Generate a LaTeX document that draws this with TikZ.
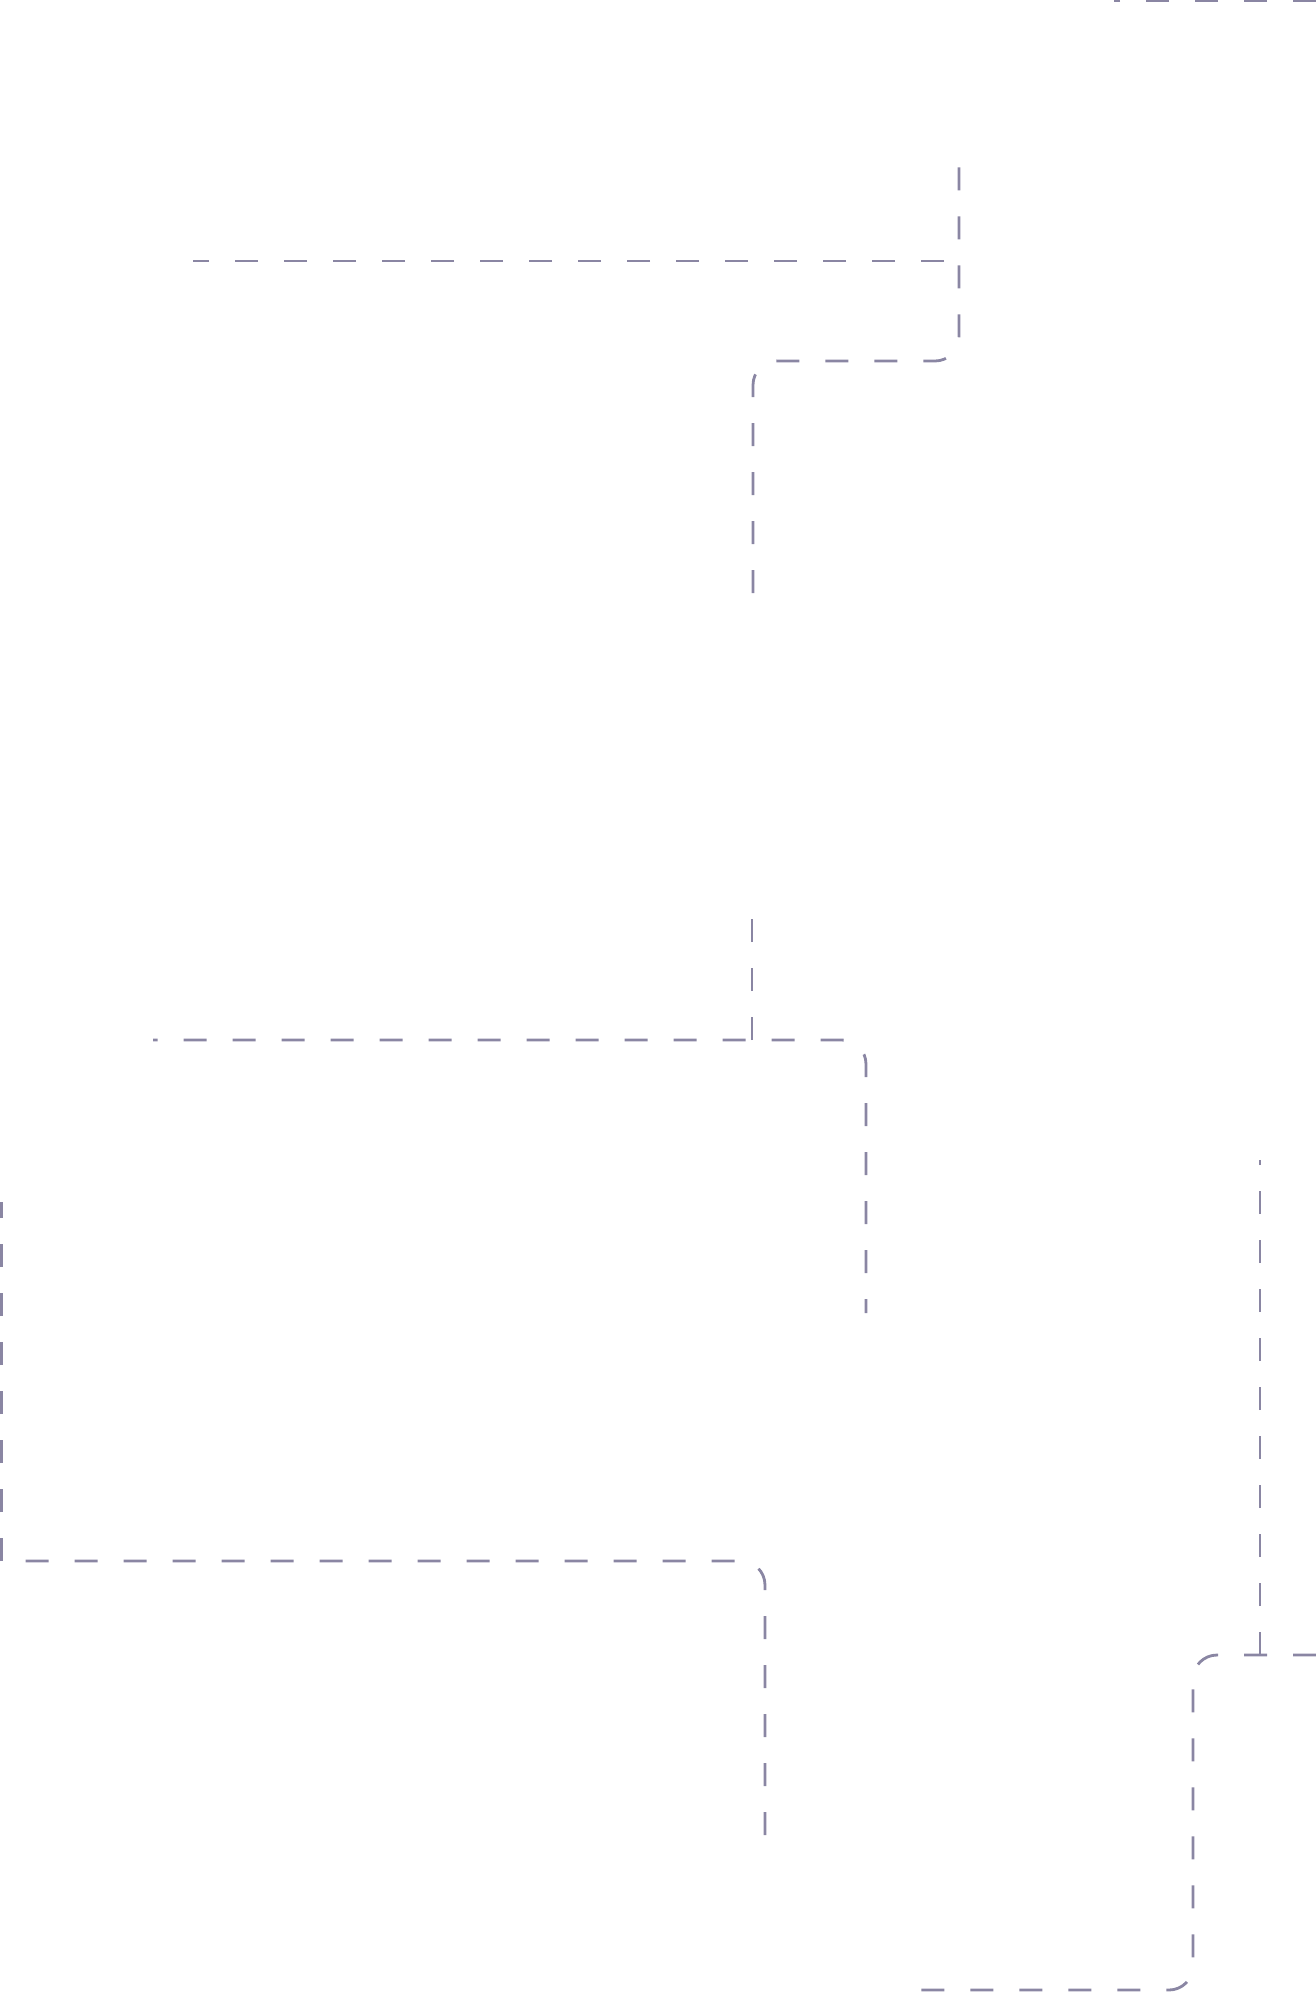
\documentclass[tikz,border=0pt]{standalone}
\usepackage{tikz}
\definecolor{linkgrey}{RGB}{138,134,163}

\begin{document}
\begin{tikzpicture}[x=0.5pt,y=-0.5pt,
	link/.style={draw=linkgrey, line width=1.4pt, dash pattern=on 11.5pt off 13pt, rounded corners=12pt}]
	\useasboundingbox (0,0) rectangle (1316,1994);
	\coordinate (topa) at (1114,1);
	\coordinate (topb) at (1316,1);
	\coordinate (ina) at (193,261);
	\coordinate (inb) at (944,261);
	\coordinate (upa) at (959,154);
	\coordinate (upb) at (753,593);
	\coordinate (mida) at (752,907);
	\coordinate (midb) at (153,1040);
	\coordinate (midc) at (866,1313);
	\coordinate (lefta) at (1.5,1202);
	\coordinate (leftb) at (765,1835);
	\coordinate (leftc) at (1.5,1561);
	\coordinate (righta) at (1260,1160);
	\coordinate (rightb) at (1316,1655);
	\coordinate (rightc) at (921,1990);
	\draw [link] (topb) -- (topa);
	\draw [link] (inb) -- (ina);
	\draw [link] (upb) |- (upa |- 0,361) -- (upa);
	\draw [link, dash phase=4.5pt] (midc) |- (midb);
	\draw [link, sharp corners] (mida |- midb) -- (mida);
	\draw [link] (leftb) |- (leftc);
	\draw [link, sharp corners] (leftc) -- (lefta);
	\draw [link] (rightb) -| (1193,1990) -- (rightc);
	\draw [link, sharp corners] (righta |- rightb) -- (righta);
\end{tikzpicture}
\end{document}
